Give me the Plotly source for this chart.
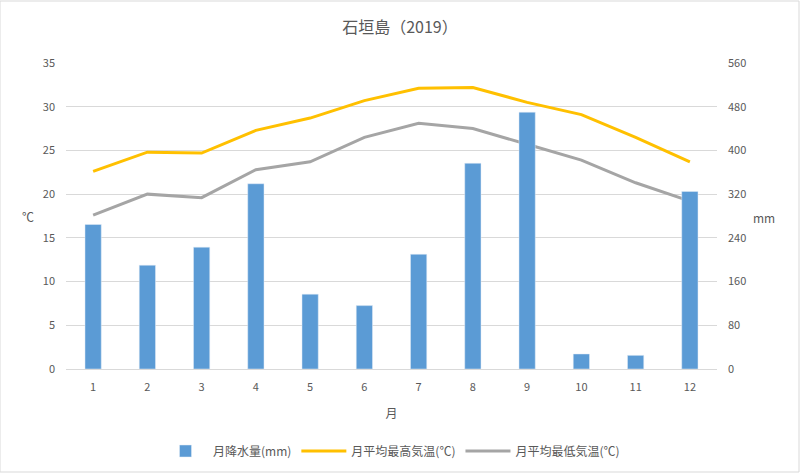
import plotly.graph_objects as go

months = [1, 2, 3, 4, 5, 6, 7, 8, 9, 10, 11, 12]
month_labels = [str(m) for m in months]
precip_mm = [264.5, 190, 223, 339, 137, 116, 210, 376.5, 470, 27.5, 25, 325]
tmax_c = [22.6, 24.8, 24.7, 27.3, 28.7, 30.7, 32.1, 32.2, 30.5, 29.1, 26.5, 23.7]
tmin_c = [17.6, 20.0, 19.6, 22.8, 23.7, 26.5, 28.1, 27.5, 25.7, 23.9, 21.3, 19.2]

FONT = "Noto Sans CJK JP, Noto Sans, sans-serif"
GRAY = "#595959"

fig = go.Figure()
fig.add_trace(go.Bar(x=months, y=precip_mm, name="月降水量(mm)", marker_color="#5b9bd5",
                     width=0.3, yaxis="y2"))
fig.add_trace(go.Scatter(x=months, y=tmax_c, name="月平均最高気温(℃)", mode="lines",
                         line=dict(color="#ffc000", width=3)))
fig.add_trace(go.Scatter(x=months, y=tmin_c, name="月平均最低気温(℃)", mode="lines",
                         line=dict(color="#a5a5a5", width=3)))

fig.update_layout(
    width=800, height=473,
    margin=dict(l=66, r=83, t=63, b=104, autoexpand=False),
    paper_bgcolor="white", plot_bgcolor="white",
    font=dict(family=FONT, size=11, color=GRAY),
    title=dict(text="石垣島（2019）", x=0.5, xanchor="center", y=0.943, yanchor="middle",
               font=dict(size=16, color=GRAY)),
    xaxis=dict(range=[0.5, 12.5], tickvals=months, ticktext=month_labels,
               showgrid=False, showline=True, linecolor="#d9d9d9", ticks="",
               ticklabelstandoff=8, automargin=False,
               title=dict(text="月", font=dict(size=12, color=GRAY), standoff=16),
               fixedrange=True),
    yaxis=dict(range=[0, 35], dtick=5, showgrid=True, gridcolor="#d9d9d9", zeroline=False,
               showline=False, ticks="", ticklabelstandoff=10, fixedrange=True,
               automargin=False),
    yaxis2=dict(range=[0, 560], dtick=80, overlaying="y", side="right", showgrid=False,
                zeroline=False, showline=False, ticks="", ticklabelstandoff=10,
                fixedrange=True, automargin=False),
    legend=dict(orientation="h", x=0.5, xanchor="center", yref="container",
                y=(473 - 451) / 473, yanchor="middle",
                font=dict(size=12, color=GRAY), itemwidth=45, traceorder="normal"),
    showlegend=True,
    annotations=[
        dict(text="℃", xref="paper", yref="paper", x=-0.058, y=0.5, xanchor="center",
             yanchor="middle", showarrow=False, font=dict(size=12, color=GRAY)),
        dict(text="mm", xref="paper", yref="paper", x=1.052, y=0.495, xanchor="left",
             yanchor="middle", showarrow=False, font=dict(size=12, color=GRAY)),
    ],
)
fig.add_shape(type="rect", xref="paper", yref="paper",
              x0=-66/651, x1=(651+83-1)/651, y0=-(104-1)/306, y1=(306+63-1)/306,
              line=dict(color="#d9d9d9", width=1), layer="below")

fig.write_html("out.html")
